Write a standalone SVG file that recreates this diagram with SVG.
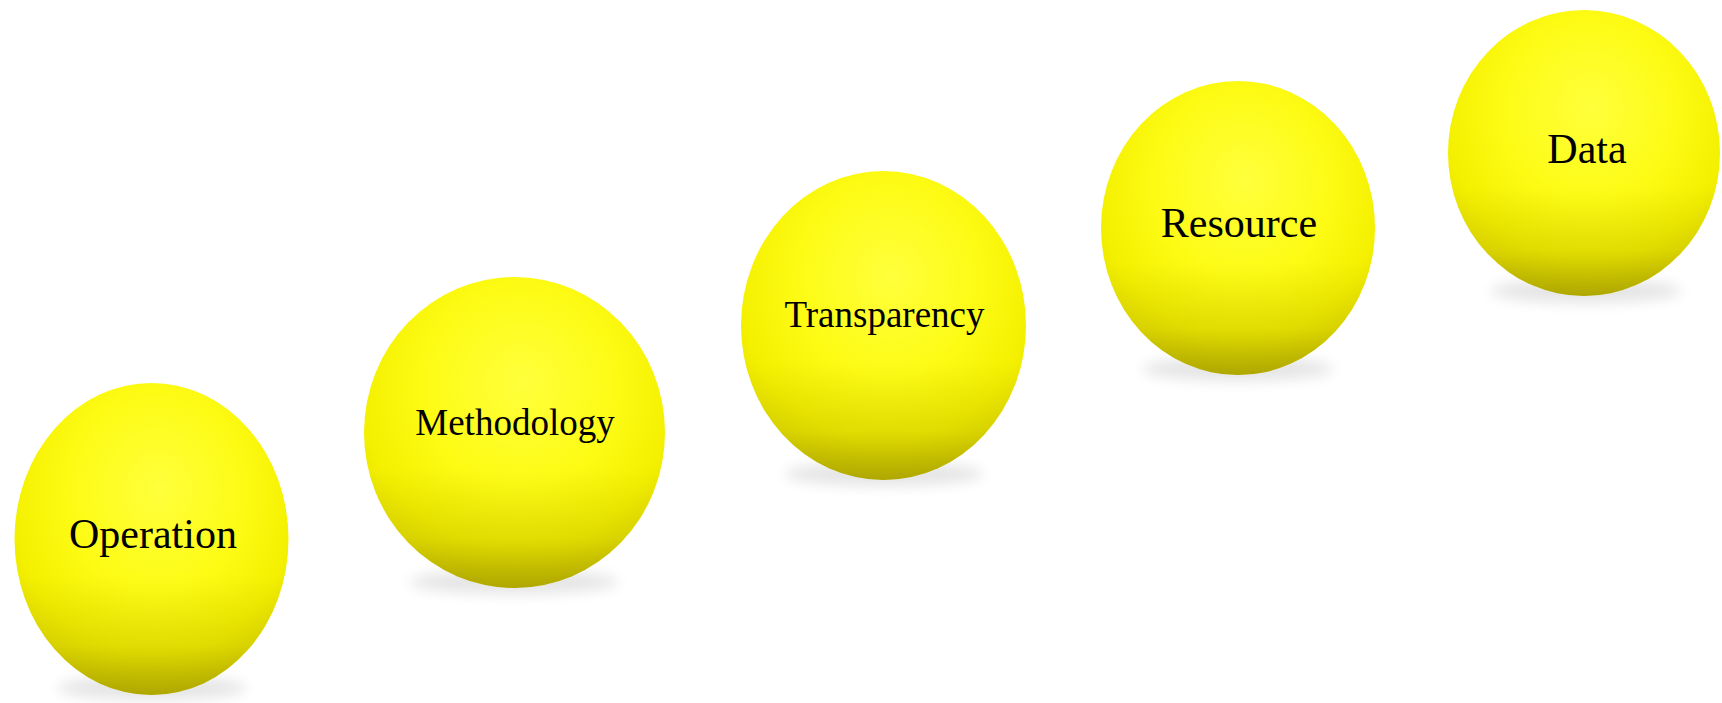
<svg xmlns="http://www.w3.org/2000/svg" width="1722" height="703" viewBox="0 0 1722 703">
<style>
.lbl{font-family:"Liberation Serif","Times New Roman",serif;fill:#000;text-anchor:middle}
.big{font-size:42px}
.mid{font-size:37px}
.shadow{fill:#000;opacity:0.10}
</style>
<defs>
<radialGradient id="ball" cx="0.5" cy="0.36" r="0.72" fx="0.53" fy="0.34">
<stop offset="0" stop-color="#FFFF3C"/>
<stop offset="0.45" stop-color="#FDFB14"/>
<stop offset="0.72" stop-color="#F4F000"/>
<stop offset="1" stop-color="#DCD400"/>
</radialGradient>
<linearGradient id="bottom" x1="0" y1="0" x2="0" y2="1">
<stop offset="0.62" stop-color="#7A7000" stop-opacity="0"/>
<stop offset="0.84" stop-color="#7A7000" stop-opacity="0.16"/>
<stop offset="0.93" stop-color="#6E6400" stop-opacity="0.32"/>
<stop offset="1" stop-color="#625800" stop-opacity="0.42"/>
</linearGradient>
<filter id="blur" x="-50%" y="-100%" width="200%" height="300%">
<feGaussianBlur stdDeviation="7"/>
</filter>
</defs>
<rect width="1722" height="703" fill="#fff"/>

<g id="node-operation">
<ellipse class="shadow" cx="152" cy="688" rx="95" ry="12" filter="url(#blur)"/>
<ellipse cx="151.5" cy="539" rx="137" ry="156" fill="url(#ball)"/>
<ellipse cx="151.5" cy="539" rx="137" ry="156" fill="url(#bottom)"/>
<text class="lbl big" x="153" y="548">Operation</text>
</g>

<g id="node-methodology">
<ellipse class="shadow" cx="514" cy="582" rx="105" ry="12" filter="url(#blur)"/>
<ellipse cx="514.5" cy="432.5" rx="150.5" ry="155.5" fill="url(#ball)"/>
<ellipse cx="514.5" cy="432.5" rx="150.5" ry="155.5" fill="url(#bottom)"/>
<text class="lbl mid" x="515" y="435">Methodology</text>
</g>

<g id="node-transparency">
<ellipse class="shadow" cx="884" cy="474" rx="100" ry="12" filter="url(#blur)"/>
<ellipse cx="883.5" cy="325.5" rx="142.5" ry="154.5" fill="url(#ball)"/>
<ellipse cx="883.5" cy="325.5" rx="142.5" ry="154.5" fill="url(#bottom)"/>
<text class="lbl mid" x="884.5" y="327">Transparency</text>
</g>

<g id="node-resource">
<ellipse class="shadow" cx="1238" cy="369" rx="96" ry="12" filter="url(#blur)"/>
<ellipse cx="1238" cy="228" rx="137" ry="147" fill="url(#ball)"/>
<ellipse cx="1238" cy="228" rx="137" ry="147" fill="url(#bottom)"/>
<text class="lbl big" x="1239" y="237">Resource</text>
</g>

<g id="node-data">
<ellipse class="shadow" cx="1586" cy="291" rx="96" ry="12" filter="url(#blur)"/>
<ellipse cx="1584" cy="153" rx="136" ry="143" fill="url(#ball)"/>
<ellipse cx="1584" cy="153" rx="136" ry="143" fill="url(#bottom)"/>
<text class="lbl big" x="1587" y="163">Data</text>
</g>

<g id="connectors"/>
</svg>
